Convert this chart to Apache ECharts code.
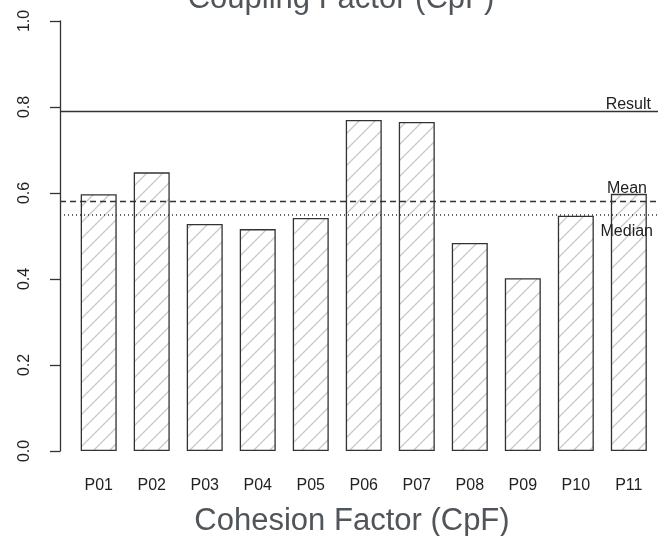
<!DOCTYPE html>
<html>
<head>
<meta charset="utf-8">
<script src="https://cdn.jsdelivr.net/npm/echarts@6/dist/echarts.min.js"></script>
<style>
  html, body { margin: 0; padding: 0; background: #ffffff; }
  #chart { width: 658px; height: 536px; }
</style>
</head>
<body>
<div id="chart"></div>
<script>
// Cohesion factor per participant
const categories = ['P01', 'P02', 'P03', 'P04', 'P05', 'P06', 'P07', 'P08', 'P09', 'P10', 'P11'];
const cpfValues = [0.597, 0.648, 0.528, 0.516, 0.542, 0.770, 0.765, 0.484, 0.402, 0.547, 0.598];
const yTicks = [0.0, 0.2, 0.4, 0.6, 0.8, 1.0];

// Reference levels
const resultValue = 0.79;
const meanValue = 0.584;
const medianValue = 0.547;

// Diagonal hatch tile for the bar fill
function hatchPattern() {
  const s = 16;
  const c = document.createElement('canvas');
  c.width = s; c.height = s;
  const ctx = c.getContext('2d');
  ctx.fillStyle = '#ffffff';
  ctx.fillRect(0, 0, s, s);
  ctx.strokeStyle = '#c9c9c9';
  ctx.lineWidth = 1.3;
  ctx.beginPath();
  ctx.moveTo(0, s); ctx.lineTo(s, 0);
  ctx.moveTo(-2, 2); ctx.lineTo(2, -2);
  ctx.moveTo(s - 2, s + 2); ctx.lineTo(s + 2, s - 2);
  ctx.stroke();
  return c;
}

const chart = echarts.init(document.getElementById('chart'), null, { renderer: 'canvas' });

const textFont = 'Liberation Sans, Arial, Helvetica, sans-serif';
const titleStyle = { fontFamily: textFont, fontSize: 31, fontWeight: 'normal', color: '#50555a' };

chart.setOption({
  animation: false,
  backgroundColor: '#ffffff',
  title: [
    {
      text: 'Coupling Factor (CpF)',
      left: 336,
      top: -21,
      textAlign: 'center',
      textStyle: titleStyle
    },
    {
      text: 'Cohesion Factor (CpF)',
      left: 347,
      top: 501,
      textAlign: 'center',
      textStyle: titleStyle
    }
  ],
  grid: { left: 60, right: 0, top: 21, bottom: 85 },
  xAxis: {
    type: 'value',
    min: -0.73,
    max: 10.55,
    axisLine: { show: false },
    axisTick: { show: false },
    splitLine: { show: false },
    axisLabel: {
      customValues: categories.map((_, i) => i),
      formatter: v => categories[Math.round(v)] || '',
      margin: 27,
      fontFamily: textFont,
      fontSize: 16,
      color: '#222222'
    }
  },
  yAxis: {
    type: 'value',
    min: yTicks[0],
    max: yTicks[yTicks.length - 1],
    interval: 0.2,
    axisLine: { show: true, onZero: false, lineStyle: { color: '#333333', width: 1.3 } },
    axisTick: { show: true, length: 10, lineStyle: { color: '#333333', width: 1.3 } },
    splitLine: { show: false },
    axisLabel: {
      rotate: 90,
      margin: 27,
      formatter: v => v.toFixed(1),
      fontFamily: textFont,
      fontSize: 16,
      color: '#222222'
    }
  },
  series: [{
    type: 'bar',
    data: cpfValues.map((v, i) => [i, v]),
    barWidth: 36,
    itemStyle: {
      color: { image: hatchPattern(), repeat: 'repeat' },
      borderColor: '#333333',
      borderWidth: 1.3
    },
    silent: true,
    markLine: {
      silent: true,
      symbol: 'none',
      animation: false,
      label: { fontFamily: textFont, fontSize: 16, color: '#222222' },
      data: [
        {
          yAxis: resultValue,
          lineStyle: { type: 'solid', color: '#333333', width: 1.3 },
          label: { formatter: 'Result', position: 'insideEndTop', distance: [7, -1] }
        },
        {
          yAxis: meanValue,
          lineStyle: { type: [6, 4], color: '#333333', width: 1.3 },
          label: { formatter: 'Mean', position: 'insideEndTop', distance: [11, 5] }
        },
        {
          yAxis: medianValue,
          lineStyle: { type: [1, 3], color: '#333333', width: 1.5 },
          label: { formatter: 'Median', position: 'insideEndBottom', distance: [5, 9] }
        }
      ]
    }
  }]
});
</script>
</body>
</html>
